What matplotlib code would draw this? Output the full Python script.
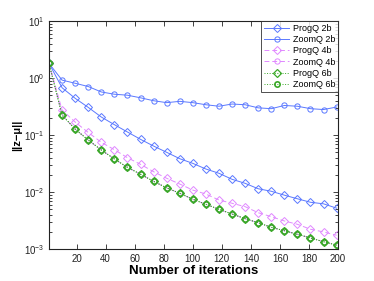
import numpy as np
import matplotlib
matplotlib.use("Agg")
import matplotlib.pyplot as plt
from matplotlib.ticker import LogLocator, NullFormatter

plt.rcParams['font.family'] = ['Liberation Sans', 'DejaVu Sans']
plt.rcParams['mathtext.fontset'] = 'custom'
plt.rcParams['mathtext.rm'] = 'Liberation Sans'

iters = np.arange(1, 201, 9)

progq_2b = [1.81, 0.676, 0.441, 0.306, 0.207, 0.152, 0.113, 0.084, 0.064, 0.0497,
            0.0384, 0.0318, 0.0253, 0.0213, 0.0167, 0.0142, 0.0114, 0.0103, 0.0088,
            0.0076, 0.0066, 0.0062, 0.0052]
zoomq_2b = [1.81, 0.92, 0.81, 0.71, 0.57, 0.52, 0.50, 0.45, 0.40, 0.37, 0.39, 0.37,
            0.34, 0.32, 0.35, 0.34, 0.30, 0.29, 0.33, 0.32, 0.29, 0.28, 0.31]
progq_4b = [1.81, 0.275, 0.169, 0.111, 0.0745, 0.0553, 0.040, 0.0306, 0.0227, 0.0174,
            0.0138, 0.0108, 0.0092, 0.00724, 0.00634, 0.00553, 0.00433, 0.00369,
            0.0031, 0.00271, 0.00222, 0.00199, 0.00174]
zoomq_4b = [1.81, 0.224, 0.127, 0.0816, 0.0546, 0.038, 0.0271, 0.0205, 0.0154, 0.0118,
            0.0095, 0.00745, 0.00608, 0.00497, 0.00411, 0.0034, 0.00289, 0.0024,
            0.00209, 0.00181, 0.00156, 0.00134, 0.00117]
progq_6b = [1.81, 0.224, 0.127, 0.0816, 0.0546, 0.038, 0.0271, 0.0205, 0.0154, 0.0118,
            0.0095, 0.00745, 0.00608, 0.00497, 0.00411, 0.0034, 0.00289, 0.0024,
            0.00209, 0.00181, 0.00156, 0.00134, 0.00117]
zoomq_6b = [1.81, 0.224, 0.127, 0.0816, 0.0546, 0.038, 0.0271, 0.0205, 0.0154, 0.0118,
            0.0095, 0.00745, 0.00608, 0.00497, 0.00411, 0.0034, 0.00289, 0.0024,
            0.00209, 0.00181, 0.00156, 0.00134, 0.00117]

blue = '#5a78ff'
mag = '#e088ff'
green = '#3aa828'

fig = plt.figure(figsize=(3.74, 2.81), dpi=100)
ax = fig.add_axes([0.131, 0.114, 0.773, 0.811])

ms = 3.8
ax.plot(iters, progq_2b, '-', color=blue, marker='D', mfc='none', ms=ms, lw=0.7, mew=0.7, label='ProgQ 2b')
ax.plot(iters, zoomq_2b, '-', color=blue, marker='o', mfc='none', ms=ms, lw=0.7, mew=0.7, label='ZoomQ 2b')
ax.plot(iters, progq_4b, '--', color=mag, marker='D', mfc='none', ms=ms, lw=0.7, mew=0.7, label='ProgQ 4b', dashes=(5, 3))
ax.plot(iters, zoomq_4b, '--', color=mag, marker='o', mfc='none', ms=ms, lw=0.7, mew=0.7, label='ZoomQ 4b', dashes=(5, 3))
ax.plot(iters, progq_6b, ':', color=green, marker='D', mfc='none', ms=ms, lw=0.7, mew=0.9, label='ProgQ 6b')
ax.plot(iters, zoomq_6b, ':', color=green, marker='o', mfc='none', ms=ms, lw=0.7, mew=1.2, label='ZoomQ 6b')

ax.set_yscale('log')
ax.set_xlim(1, 200)
ax.set_ylim(1e-3, 1e1)
ax.set_xticks(np.arange(20, 201, 20))
ax.yaxis.set_major_locator(LogLocator(base=10, numticks=10))
ax.yaxis.set_minor_locator(LogLocator(base=10, subs=np.arange(2, 10), numticks=10))
ax.yaxis.set_minor_formatter(NullFormatter())
ax.tick_params(which='both', direction='in', top=True, right=True, labelsize=7, colors='#222222', width=0.6)
ax.tick_params(which='major', length=3.5)
ax.tick_params(which='minor', length=2)
for s in ax.spines.values():
    s.set_linewidth(0.8)
    s.set_color('#222222')

ax.set_xlabel('Number of iterations', fontsize=9.5, fontweight='bold', labelpad=1)
ax.set_ylabel('||z\u2212\u03bc||', fontsize=8, fontweight='bold', labelpad=1)

leg = ax.legend(loc='upper right', fontsize=6.5, frameon=True, fancybox=False,
                edgecolor='#222222', borderpad=0.3, labelspacing=0.25, handlelength=2.8,
                handletextpad=0.4, borderaxespad=0)
leg.get_frame().set_linewidth(0.7)

fig.savefig('out.png', dpi=100)
